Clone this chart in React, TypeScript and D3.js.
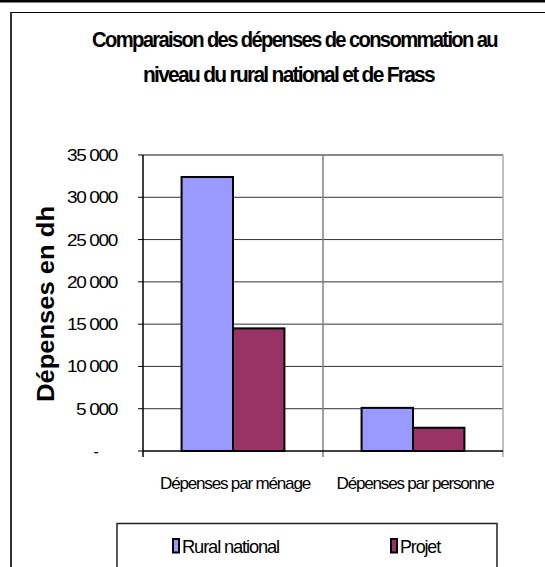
import React from 'react'
import * as d3 from 'd3'

// chart data
const categories = ['Dépenses par ménage', 'Dépenses par personne']
const seriesNames = ['Rural national', 'Projet']
const ruralNational = [32400, 5100]
const projet = [14500, 2750]
const yTicks = [0, 5000, 10000, 15000, 20000, 25000, 30000, 35000]
const titleLines = ['Comparaison des dépenses de consommation au', 'niveau du rural national et de Frass']
const yTitle = 'Dépenses en dh'

const colors = ['#9999ff', '#993366']
const font = 'Arial, "Liberation Sans", sans-serif'

const fr = d3.formatLocale({ decimal: ',', thousands: ' ', grouping: [3], currency: ['', ''] })
const fmt = (v: number) => (v === 0 ? '-' : fr.format(',')(v))

// squeezed text, like the stretched excel picture
const T = (props: any) => {
  const { w, ls = -1, children, ...rest } = props
  return (
    <text
      {...rest}
      textLength={w}
      lengthAdjust="spacingAndGlyphs"
      fontFamily={font}
      style={{ letterSpacing: ls }}
    >
      {children}
    </text>
  )
}

export default () => {
  const left = 143
  const right = 503
  const top = 155
  const bottom = 451

  const y = d3.scaleLinear().domain([0, 35000]).range([bottom, top])
  const x0 = d3.scaleBand().domain(categories).range([left, right]).padding(0)
  const x1 = d3.scaleBand().domain(seriesNames).range([0, x0.bandwidth()]).paddingInner(0).paddingOuter(0.75)

  const values = [ruralNational, projet]

  return (
    <svg width={545} height={567} style={{ position: 'absolute', left: 0, top: 0 }}>
      <rect width={545} height={567} fill="#fff" />
      {/* page / chart frame */}
      <rect x={0} y={0} width={545} height={2.5} fill="#000" />
      <line x1={11} x2={545} y1={12.5} y2={12.5} stroke="#000" strokeWidth={1} />
      <line x1={11} x2={11} y1={12} y2={567} stroke="#333" strokeWidth={2} />

      {/* title */}
      <T x={92} y={47} w={405} fontSize={22} fontWeight="bold" ls={-1.8}>{titleLines[0]}</T>
      <T x={143} y={82} w={291} fontSize={22} fontWeight="bold" ls={-1.8}>{titleLines[1]}</T>

      {/* grid */}
      {yTicks.filter((t) => t > 0 && t < 35000).map((t) => (
        <line key={t} x1={left} x2={right} y1={y(t)} y2={y(t)} stroke="#333" strokeWidth={1} />
      ))}
      <line x1={left} x2={right} y1={top} y2={top} stroke="#888" strokeWidth={2} />
      <line x1={right} x2={right} y1={top} y2={bottom + 6} stroke="#aaa" strokeWidth={1.5} />
      {categories.slice(1).map((c) => (
        <line key={c} x1={x0(c)!} x2={x0(c)!} y1={top} y2={bottom + 6} stroke="#808080" strokeWidth={1.5} />
      ))}

      {/* bars */}
      {categories.map((c, ci) =>
        seriesNames.map((s, si) => (
          <rect
            key={c + s}
            x={x0(c)! + x1(s)!}
            y={y(values[si][ci])}
            width={x1.bandwidth()}
            height={bottom - y(values[si][ci])}
            fill={colors[si]}
            stroke="#000"
            strokeWidth={2}
          />
        ))
      )}

      {/* axes */}
      <line x1={left} x2={left} y1={top} y2={bottom + 6} stroke="#000" strokeWidth={1.5} />
      <line x1={left} x2={right} y1={bottom} y2={bottom} stroke="#000" strokeWidth={1.5} />
      {yTicks.map((t) => (
        <g key={t}>
          <line x1={left - 5} x2={left} y1={y(t)} y2={y(t)} stroke="#000" strokeWidth={1} />
          {t === 0 ? (
            <text x={96} y={y(t) + 6} textAnchor="middle" fontSize={17} fontFamily={font}>
              -
            </text>
          ) : (
            <T x={117} y={y(t) + 6} w={t < 10000 ? 41 : 50} textAnchor="end" fontSize={17} ls={-1.2}>
              {fmt(t)}
            </T>
          )}
        </g>
      ))}
      {categories.map((c, i) => (
        <T
          key={c}
          x={x0(c)! + x0.bandwidth() / 2 + 2}
          y={489}
          w={i === 0 ? 150 : 157}
          textAnchor="middle"
          fontSize={17}
          ls={-1.2}
        >
          {c}
        </T>
      ))}

      <T transform={`translate(54, 304) rotate(-90)`} w={196} textAnchor="middle" fontSize={23} fontWeight="bold" ls={0}>
        {yTitle}
      </T>

      {/* legend */}
      <path d="M117,567 V523.5 H497 V567" fill="none" stroke="#222" strokeWidth={1.5} />
      {seriesNames.map((s, i) => {
        const lx = i === 0 ? 173 : 391
        return (
          <g key={s}>
            <rect x={lx} y={539} width={6} height={13.5} fill={colors[i]} stroke="#000" strokeWidth={2} />
            <T x={lx + 9} y={553} w={i === 0 ? 97 : 40} fontSize={19} ls={-1.2}>
              {s}
            </T>
          </g>
        )
      })}
    </svg>
  )
}
